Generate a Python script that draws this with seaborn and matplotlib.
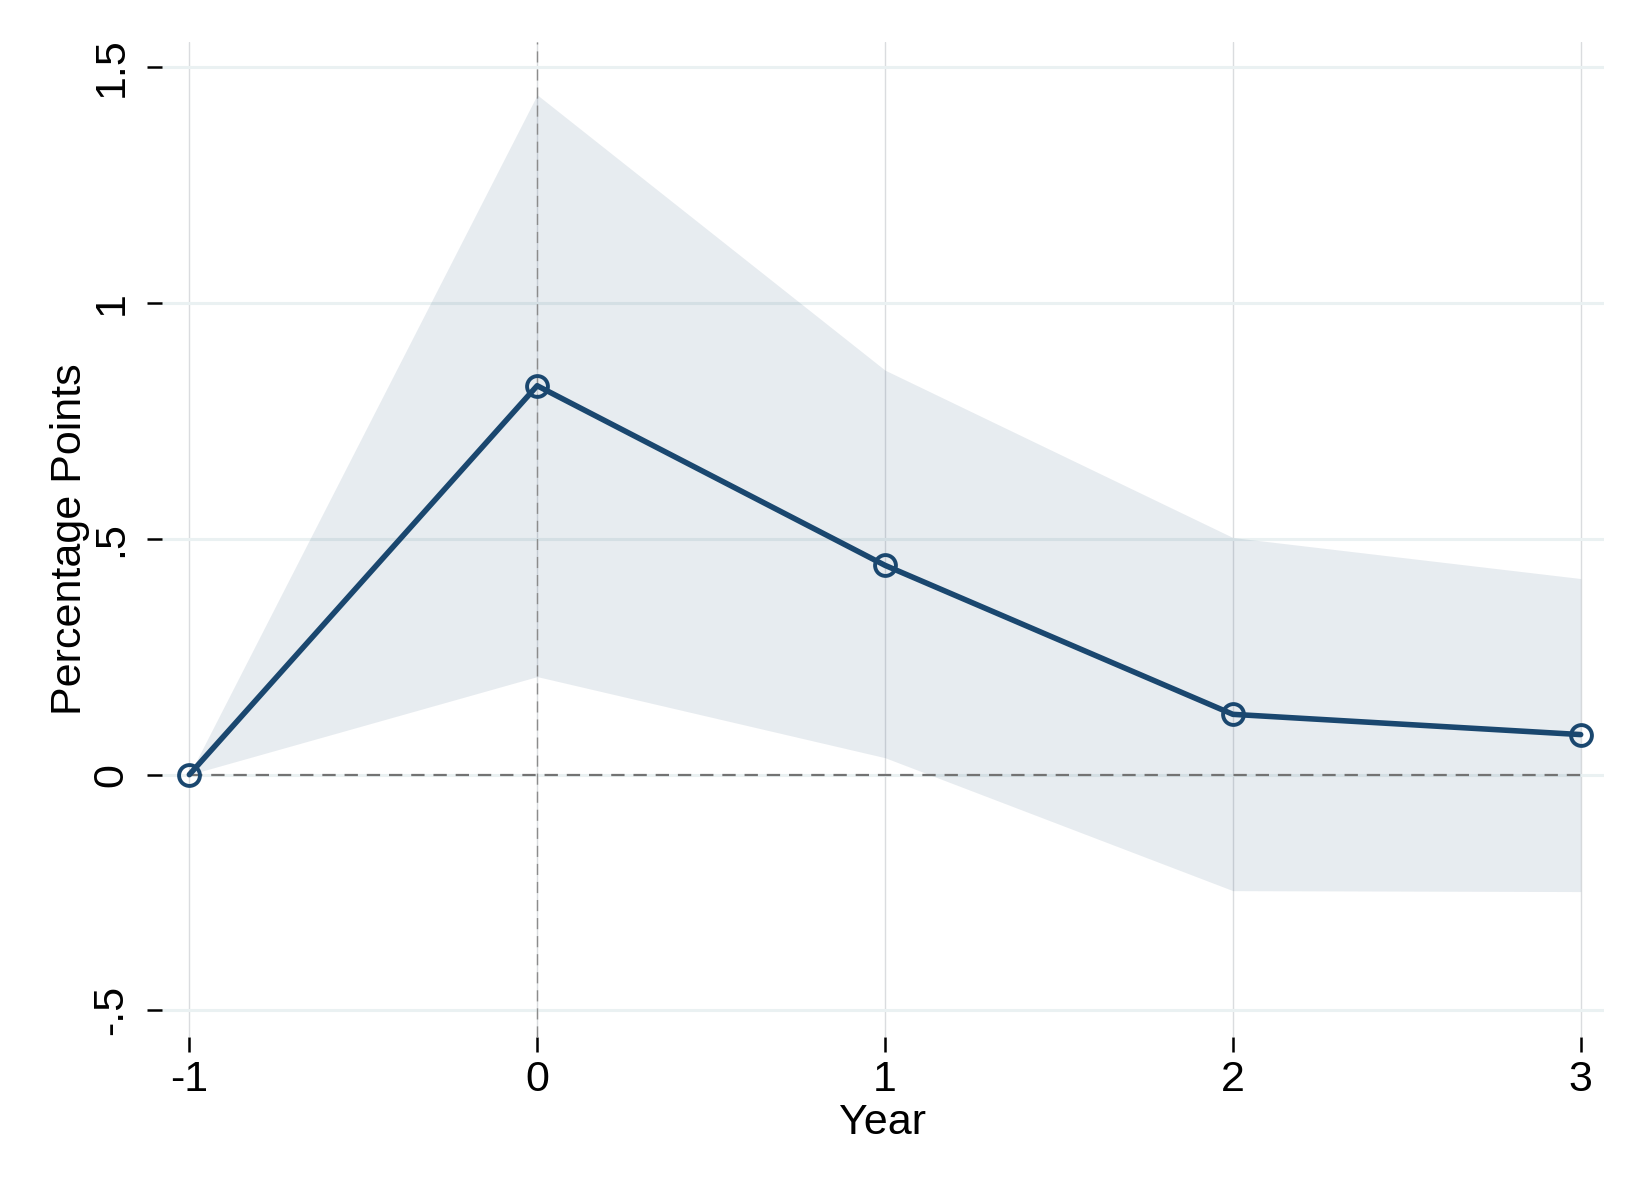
import matplotlib
matplotlib.use("Agg")
import matplotlib.pyplot as plt
import seaborn as sns
import pandas as pd

years = [-1, 0, 1, 2, 3]
estimate = [0.0, 0.825, 0.444, 0.128, 0.085]
ci_upper = [0.0, 1.442, 0.858, 0.503, 0.416]
ci_lower = [0.0, 0.208, 0.036, -0.246, -0.248]
zero_line = [0.0, 0.0, 0.0, 0.0, 0.0]
ytick_vals = [-0.5, 0, 0.5, 1, 1.5]
ytick_labels = ["-.5", "0", ".5", "1", "1.5"]
xtick_labels = ["-1", "0", "1", "2", "3"]

df = pd.DataFrame({"Year": years, "est": estimate, "lo": ci_lower, "hi": ci_upper, "zero": zero_line})

sns.set_theme(style="white")
plt.rcParams["font.family"] = ["Liberation Sans", "DejaVu Sans"]

navy = "#1a476f"
fig = plt.figure(figsize=(16.5, 12), dpi=100)
ax = fig.add_axes([0.0981, 0.136, 0.8738, 0.829])

ax.fill_between(df["Year"], df["lo"], df["hi"], color=navy, alpha=0.1, linewidth=0, zorder=1)
sns.lineplot(data=df, x="Year", y="zero", ax=ax, color="#737373", linewidth=1.6,
             linestyle=(0, (6, 4)), zorder=2)
ax.axvline(0, color="#8c8c8c", linewidth=1.0, linestyle=(0, (8, 5)), zorder=2)
sns.lineplot(data=df, x="Year", y="est", ax=ax, color=navy, linewidth=4.0,
             marker="o", markersize=15, markerfacecolor="none",
             markeredgecolor=navy, markeredgewidth=2.8, zorder=4)

ax.set_xlim(-1.079, 3.066)
ax.set_ylim(-0.556, 1.554)
ax.set_xticks(years)
ax.set_xticklabels(xtick_labels)
ax.set_yticks(ytick_vals)
ax.set_yticklabels(ytick_labels, rotation=90, va="center")

ax.set_axisbelow(True)
ax.yaxis.grid(True, color="#eaf1f2", linewidth=2.2)
ax.xaxis.grid(True, color="#dadcdf", linewidth=1.0)

for s in ax.spines.values():
    s.set_visible(False)

ax.tick_params(axis="both", which="major", direction="out", length=11, width=1.8,
               color="black", labelsize=31, labelcolor="black", left=True, bottom=True)
ax.tick_params(axis="y", pad=11)
ax.tick_params(axis="x", pad=6)

ax.set_xlabel("Year", fontsize=31, labelpad=2, color="black")
ax.set_ylabel("Percentage Points", fontsize=31, labelpad=1, color="black")

fig.savefig("out.png", dpi=100, facecolor="white")
